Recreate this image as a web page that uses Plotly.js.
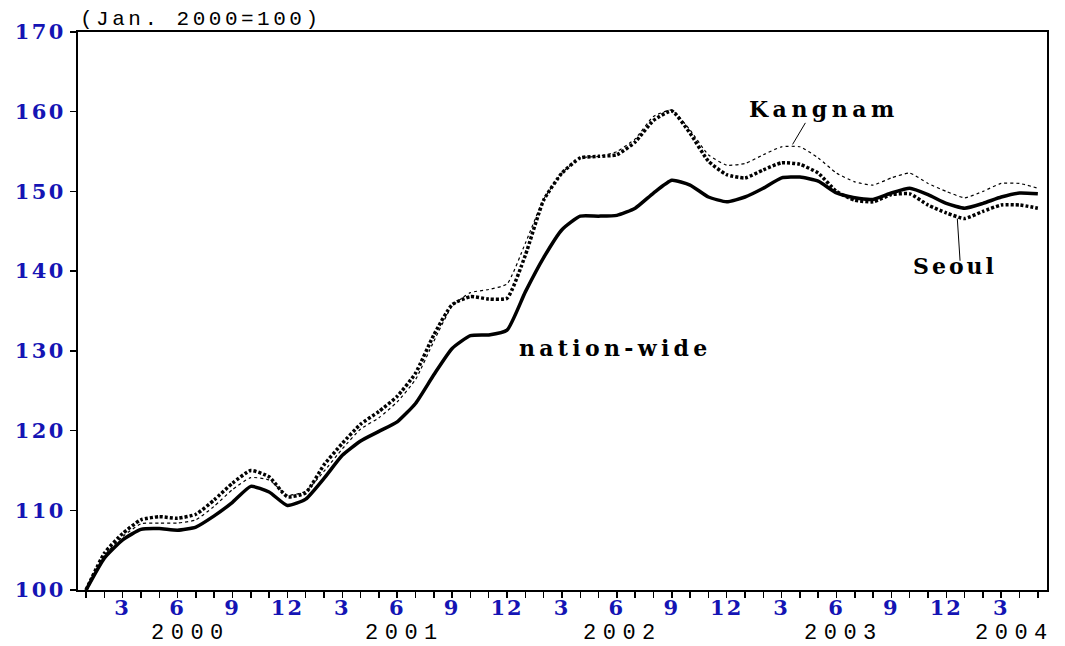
<!DOCTYPE html>
<html>
<head>
<meta charset="utf-8">
<script src="https://cdn.plot.ly/plotly-3.0.1.min.js"></script>
<style>html,body{margin:0;padding:0;background:#fff;}#chart{width:1065px;height:646px;}</style>
</head>
<body>
<div id="chart"></div>
<script>
// Monthly periods Jan 2000 .. May 2004
const periods = ["2000-01","2000-02","2000-03","2000-04","2000-05","2000-06","2000-07","2000-08","2000-09","2000-10","2000-11","2000-12",
"2001-01","2001-02","2001-03","2001-04","2001-05","2001-06","2001-07","2001-08","2001-09","2001-10","2001-11","2001-12",
"2002-01","2002-02","2002-03","2002-04","2002-05","2002-06","2002-07","2002-08","2002-09","2002-10","2002-11","2002-12",
"2003-01","2003-02","2003-03","2003-04","2003-05","2003-06","2003-07","2003-08","2003-09","2003-10","2003-11","2003-12",
"2004-01","2004-02","2004-03","2004-04","2004-05"];

const nationwide = [100.0,104.0,106.3,107.6,107.7,107.5,107.9,109.3,111.0,113.0,112.3,110.6,
111.4,114.0,116.9,118.7,119.9,121.1,123.4,127.0,130.3,131.9,132.0,132.6,
137.4,141.7,145.2,146.9,146.9,147.0,147.9,149.8,151.4,150.8,149.3,148.7,
149.3,150.4,151.7,151.8,151.3,149.8,149.2,149.0,149.8,150.4,149.6,148.5,
147.9,148.5,149.3,149.8,149.7];

const seoul = [100.0,104.6,107.1,108.8,109.2,109.0,109.5,111.3,113.4,115.0,114.2,111.7,
112.2,115.7,118.4,120.8,122.4,124.3,127.2,132.0,135.8,136.8,136.5,136.6,
142.0,148.9,152.3,154.2,154.4,154.6,156.2,158.9,160.1,157.3,153.8,152.1,
151.7,152.7,153.6,153.4,152.3,150.0,148.9,148.7,149.6,149.7,148.3,147.3,
146.6,147.5,148.3,148.3,147.9];

const kangnam = [100.0,104.3,106.7,108.3,108.4,108.4,108.8,110.5,112.6,114.1,113.8,111.9,
112.4,114.9,117.7,120.2,121.6,123.6,126.4,131.2,135.6,137.3,137.7,138.4,
143.5,149.0,152.3,154.2,154.4,155.0,156.6,159.4,160.2,157.7,154.6,153.3,
153.5,154.6,155.6,155.6,154.2,152.3,151.2,150.8,151.7,152.3,151.0,150.0,
149.2,150.0,151.0,151.0,150.4];

const yTicks = [100,110,120,130,140,150,160,170];
const years = ["2000","2001","2002","2003","2004"];
const seriesNames = ["nation-wide","Seoul","Kangnam"];
const unitLabel = "(Jan. 2000=100)";

const xIdx = periods.map((p, i) => i);
const sp = (t, ls) => '<span style="letter-spacing:' + ls + 'px">' + t + '</span>';
const monthTickText = periods.map(p => {
  const m = parseInt(p.slice(5), 10);
  return (m % 3 === 0) ? sp(String(m), 2) : "";
});

const lineShape = 'spline';
const traces = [
  {x: xIdx, y: kangnam, name: seriesNames[2], mode: 'lines',
   line: {color: '#000', width: 1.2, dash: '3px,3px', shape: lineShape, smoothing: 0.5}},
  {x: xIdx, y: seoul, name: seriesNames[1], mode: 'lines',
   line: {color: '#000', width: 3.5, dash: '3px,2px', shape: lineShape, smoothing: 0.5}},
  {x: xIdx, y: nationwide, name: seriesNames[0], mode: 'lines',
   line: {color: '#000', width: 3.5, shape: lineShape, smoothing: 0.5}}
];

const blue = '#1414b4';
const yearPos = [5.7, 17.4, 29.3, 41.4, 50.7];
const labelFont = {family: 'DejaVu Serif, serif', size: 22, color: '#000', weight: 'bold'};

const annotations = [
  {xref: 'paper', yref: 'paper', x: 0, y: 1, xanchor: 'left', yanchor: 'bottom', yshift: -1,
   text: sp(unitLabel, 3.5), showarrow: false,
   font: {family: 'Liberation Mono, monospace', size: 21, color: '#000'}},
  {x: 40.3, y: 160.3, text: sp(seriesNames[2], 4.5), showarrow: false, font: labelFont},
  {x: 47.5, y: 140.6, text: sp(seriesNames[1], 3), showarrow: false, font: labelFont},
  {x: 28.9, y: 130.4, text: sp(seriesNames[0], 4.3), showarrow: false, font: labelFont}
].concat(years.map((yr, k) => ({
  x: yearPos[k], xref: 'x', yref: 'paper', y: -0.078, yanchor: 'middle',
  text: sp(yr, 6.5), showarrow: false, borderpad: 0,
  font: {family: 'Liberation Mono, monospace', size: 22, color: '#000'}
})));

const shapes = [
  {type: 'line', xref: 'x', yref: 'y', x0: 39.3, y0: 158.6, x1: 38.6, y1: 155.9, line: {color: '#000', width: 1}},
  {type: 'line', xref: 'x', yref: 'y', x0: 47.6, y0: 146.6, x1: 47.75, y1: 141.3, line: {color: '#000', width: 1}}
];

const tickFont = {family: 'DejaVu Serif, serif', size: 21, color: blue, weight: 'bold'};

const layout = {
  width: 1065, height: 646,
  margin: {l: 78, r: 18, t: 32, b: 56},
  paper_bgcolor: '#fff', plot_bgcolor: '#fff',
  showlegend: false,
  xaxis: {
    range: [-0.44, 52.5], tickvals: xIdx, ticktext: monthTickText,
    ticks: 'outside', ticklen: 6, tickwidth: 1.5, tickcolor: '#000',
    ticklabelstandoff: -8,
    showline: true, linecolor: '#000', linewidth: 2, mirror: true,
    showgrid: false, zeroline: false,
    tickfont: tickFont
  },
  yaxis: {
    range: [100, 170], tickvals: yTicks, ticktext: yTicks.map(v => sp(String(v), 2.4)),
    ticks: 'outside', ticklen: 6, tickwidth: 1.5, tickcolor: '#000',
    showline: true, linecolor: '#000', linewidth: 2, mirror: true,
    showgrid: false, zeroline: false,
    tickfont: tickFont
  },
  annotations: annotations,
  shapes: shapes
};

Plotly.newPlot('chart', traces, layout, {displayModeBar: false, staticPlot: true});
</script>
</body>
</html>
